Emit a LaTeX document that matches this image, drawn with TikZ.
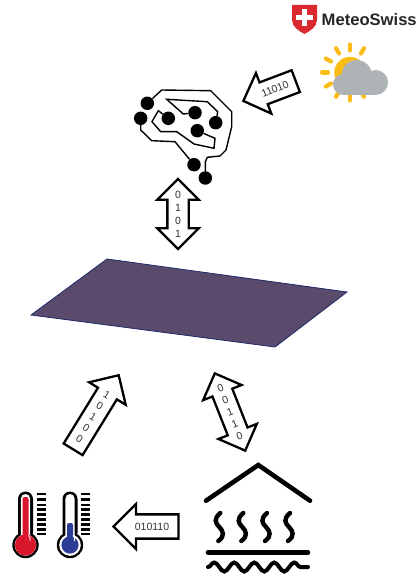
\documentclass[tikz,border=0pt]{standalone}
\usepackage{fontspec}
\setmainfont{Liberation Sans}
\usetikzlibrary{shapes.arrows,decorations.pathmorphing}
\definecolor{planefill}{HTML}{5A4A6C}
\definecolor{planeline}{HTML}{1F2A6B}
\definecolor{sunyellow}{HTML}{FBBC15}
\definecolor{cloudgrey}{HTML}{AEB3B6}
\definecolor{swissred}{HTML}{DA2A30}
\definecolor{thermred}{HTML}{D9162A}
\definecolor{thermblue}{HTML}{2B3D94}
\definecolor{bitgrey}{HTML}{333333}
\tikzset{
  bitarrow/.style={single arrow, draw=black, line width=2.3pt, fill=white, text=bitgrey, align=center, font=\fontsize{10.5}{13}\selectfont, inner sep=0pt, single arrow head extend=10pt, single arrow tip angle=90},
  bitboth/.style={double arrow, draw=black, line width=2.3pt, fill=white, text=bitgrey, align=center, font=\fontsize{10.5}{13}\selectfont, inner sep=0pt, double arrow head extend=10pt, double arrow tip angle=90},
  brainline/.style={draw=black, line width=1.4pt},
  braindot/.style={circle, fill=black, minimum size=13.5pt, inner sep=0pt},
  steamline/.style={line width=4.4pt, line cap=round},
}
\begin{document}
\begin{tikzpicture}[x=1pt,y=-1pt]
  \useasboundingbox (0,0) rectangle (417,577);

  % logo
  \fill[swissred] (292,5) -- (317,5) -- (317,20) .. controls (317,27) and (310,31) .. (304.5,34) .. controls (299,31) and (292,27) .. (292,20) -- cycle;
  \fill[white] (302,9.5) rectangle (307,26.5);
  \fill[white] (296,15.5) rectangle (313,20.5);
  \node[anchor=base west, inner sep=0pt, text=black!85, font=\fontsize{16.6}{18}\selectfont\bfseries] (logo) at (321.5,26) {MeteoSwiss};

  % weather
  \foreach \a in {30,60,...,180,210,240,270,300}
    \draw[sunyellow, line width=4.2pt, line cap=round] (350,72.5) ++(\a:22) -- ++(\a:6);
  \fill[sunyellow] (350,72.5) circle (15.7);
  \fill[cloudgrey] (343.5,84.5) circle (10.5);
  \fill[cloudgrey] (356.7,75) circle (15);
  \fill[cloudgrey] (375.5,82.5) circle (12.5);
  \fill[cloudgrey] (343.5,80) rectangle (375.5,95);

  \node[bitarrow, minimum height=56pt, minimum width=42pt, shape border rotate=180, rotate=20.7, text height=14.25pt, text depth=6.75pt] (meteoarrow) at (275,89) {11010};

  % brain
  \node[braindot] (d1) at (147.3,103.3) {};
  \node[braindot] (d2) at (140.7,118.3) {};
  \node[braindot] (d3) at (168.3,118.3) {};
  \node[braindot] (d4) at (195,112.7) {};
  \node[braindot] (d5) at (215.7,122.7) {};
  \node[braindot] (d6) at (197.3,130.7) {};
  \node[braindot] (d7) at (194,164.7) {};
  \node[braindot] (d8) at (205.3,178) {};
  \draw[brainline] (d1) -- (161.7,90) -- (210.7,90.7) -- (231.7,111.7) -- (231.7,126.7) -- (226,150) -- (220,156) -- (207.3,157.3) -- (205.3,161.7) -- (d8);
  \draw[brainline] (d2) -- (140.7,130) -- (151.7,140.7) -- (175,141.7) -- (d7);
  \draw[brainline] (d3) -- (158.3,110.7) -- (152,121.7) -- (160.7,131.7) -- (176.7,131.7) -- (194,144) -- (214,148.3) -- (215,138.3) -- (d6);
  \draw[brainline] (d4) -- (183.3,114) -- (166.7,99.3) -- (207.3,101.7) -- (217.7,111.7) -- (d5);

  \node[bitboth, minimum height=64pt, minimum width=41pt, shape border rotate=90, text width=19pt] (brainarrow) at (178,214) {0\\1\\0\\1};

  % plane
  \coordinate (p1) at (107,259);
  \coordinate (p2) at (347,292);
  \coordinate (p3) at (275,347);
  \coordinate (p4) at (31,315);
  \draw[planeline, fill=planefill, line width=.8pt] (p1) -- (p2) -- (p3) -- (p4) -- cycle;

  \node[bitarrow, minimum height=87pt, minimum width=43pt, shape border rotate=90, text width=19pt, rotate=-31.6] (tempup) at (93,417) {1\\0\\1\\0\\0};
  \node[bitboth, minimum height=80pt, minimum width=41pt, shape border rotate=90, text width=19pt, rotate=21.5] (soilarrow) at (230,412) {0\\0\\1\\1\\0};
  \node[bitarrow, minimum height=65pt, minimum width=45pt, shape border rotate=180, text height=14.25pt, text depth=6.75pt] (temparrow) at (152,526.5) {010110};

  % thermometers
  \foreach \tx/\ttop/\tcol/\tbulb in {25.5/497/thermred/10.6, 70/523/thermblue/8.6} {
    \fill[black] (\tx,545) circle (13.2);
    \fill[black, rounded corners=7.5pt] (\tx-7.5,491.5) rectangle (\tx+7.5,540);
    \fill[white] (\tx,545) circle (10.8);
    \fill[white, rounded corners=4.6pt] (\tx-4.6,494) rectangle (\tx+4.6,540);
    \fill[\tcol] (\tx,545) circle (\tbulb);
    \fill[\tcol, rounded corners=2pt] (\tx-3,\ttop) rectangle (\tx+3,540);
    \draw[white, line width=.8pt] (\tx+4.5,541) arc (20:-50:5);
    \foreach \ty in {494,499.3,504.7,509.3,514.3,519.3,524.3,529.3,534}
      \draw[black, line width=2.4pt] (\tx+11,\ty) -- (\tx+20,\ty);
  }

  % soil
  \draw[black, line width=4.6pt, line cap=round] (206,500.7) -- (258.3,465) -- (310,500.7);
  \foreach \sx in {219.3,242.3,266,289}
    \draw[steamline] (\sx+1,513) .. controls (\sx-6,519) and (\sx-4,523) .. (\sx,527) .. controls (\sx+4,531) and (\sx+6,536) .. (\sx-1,541);
  \draw[black, line width=4.6pt, line cap=round] (208,552.3) -- (308,552.3);
  \draw[black, line width=4pt, line cap=round, decorate, decoration={snake, segment length=20pt, amplitude=4.5pt}] (208,567) -- (308,567);
\end{tikzpicture}
\end{document}
